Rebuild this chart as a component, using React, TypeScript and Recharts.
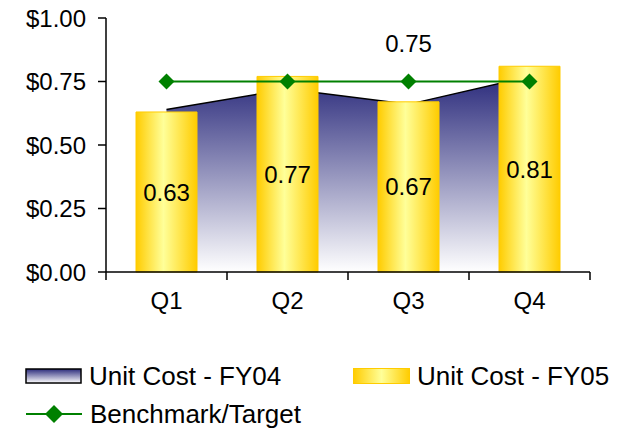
import React from "react";
import {
  Area,
  Bar,
  ComposedChart,
  LabelList,
  Legend,
  Line,
  XAxis,
  YAxis
} from "recharts";

const quarters = ["Q1", "Q2", "Q3", "Q4"];
const unitCostFY04 = [0.64, 0.72, 0.66, 0.77];
const unitCostFY05 = [0.63, 0.77, 0.67, 0.81];
const benchmarkTarget = [0.75, 0.75, 0.75, 0.75];
const yTicks = [0, 0.25, 0.5, 0.75, 1];

const data = quarters.map((q, i) => ({
  quarter: q,
  fy04: unitCostFY04[i],
  fy05: unitCostFY05[i],
  target: benchmarkTarget[i]
}));

const WIDTH = 627;
const HEIGHT = 430;
const MARGIN = { top: 18, right: 37, left: 0, bottom: 0 };
const Y_AXIS_WIDTH = 106;
const X_AXIS_HEIGHT = 30;
const BAND = (WIDTH - MARGIN.right - Y_AXIS_WIDTH) / quarters.length;
const FONT = "'Liberation Sans', Arial, sans-serif";
const LABEL_SIZE = 24;

// category label at the centre, tick marks on the band edges
function QuarterTick(props: any) {
  const { x, y, payload, index } = props;
  const top = y - 8;
  return (
    <g>
      <line x1={x - BAND / 2} x2={x - BAND / 2} y1={top} y2={top + 8} stroke="#000" strokeWidth={1.5} />
      {index === quarters.length - 1 && (
        <line x1={x + BAND / 2} x2={x + BAND / 2} y1={top} y2={top + 8} stroke="#000" strokeWidth={1.5} />
      )}
      <text x={x} y={y + 29} textAnchor="middle" fill="#000" fontSize={LABEL_SIZE} fontFamily={FONT}>
        {payload.value}
      </text>
    </g>
  );
}

function Diamond(props: any) {
  const { cx, cy } = props;
  if (cx == null || cy == null) return null;
  const r = 8;
  return (
    <polygon
      points={`${cx},${cy - r} ${cx + r},${cy} ${cx},${cy + r} ${cx - r},${cy}`}
      fill="#008000"
    />
  );
}

// only the Q3 point carries its value, raised above the line
function TargetLabel(props: any) {
  const { x, y, value, index } = props;
  if (index !== 2) return null;
  return (
    <text x={x} y={y - 38} textAnchor="middle" dominantBaseline="central" fill="#000" fontSize={LABEL_SIZE} fontFamily={FONT}>
      {value}
    </text>
  );
}

function ChartLegend() {
  const text: React.CSSProperties = {
    position: "absolute",
    fontSize: 26,
    fontFamily: FONT,
    color: "#000",
    lineHeight: "30px",
    whiteSpace: "nowrap"
  };
  return (
    <div style={{ position: "relative", width: WIDTH, height: HEIGHT - 272 - X_AXIS_HEIGHT }}>
      <svg style={{ position: "absolute", left: 25, top: 66 }} width={58} height={17}>
        <rect x={1} y={1} width={55} height={14} fill="url(#legendNavy)" stroke="#000" strokeWidth={1.5} />
      </svg>
      <div style={{ ...text, left: 89, top: 59 }}>Unit Cost - FY04</div>
      <svg style={{ position: "absolute", left: 353, top: 66 }} width={58} height={17}>
        <rect x={0.5} y={0.5} width={56} height={15} fill="url(#legendGold)" stroke="#FFCC00" strokeWidth={1} />
      </svg>
      <div style={{ ...text, left: 417, top: 59 }}>Unit Cost - FY05</div>
      <svg style={{ position: "absolute", left: 24, top: 102 }} width={60} height={20}>
        <line x1={2} x2={58} y1={10} y2={10} stroke="#008000" strokeWidth={2} />
        <polygon points="30,1 39,10 30,19 21,10" fill="#008000" />
      </svg>
      <div style={{ ...text, left: 90, top: 97 }}>Benchmark/Target</div>
    </div>
  );
}

export default function App() {
  return (
    <div style={{ position: "absolute", left: 0, top: 0, background: "#fff" }}>
      <ComposedChart width={WIDTH} height={HEIGHT} data={data} margin={MARGIN}>
        <defs>
          <linearGradient id="navyFade" x1="0" y1="0" x2="0" y2="1">
            <stop offset="0%" stopColor="#2B2B7C" />
            <stop offset="100%" stopColor="#FFFFFF" />
          </linearGradient>
          <linearGradient id="goldBar" x1="0" y1="0" x2="1" y2="0">
            <stop offset="0%" stopColor="#FFCC00" />
            <stop offset="45%" stopColor="#FFFF99" />
            <stop offset="100%" stopColor="#FFCC00" />
          </linearGradient>
          <linearGradient id="legendNavy" x1="0" y1="0" x2="0" y2="1">
            <stop offset="0%" stopColor="#2B2B7C" />
            <stop offset="100%" stopColor="#FFFFFF" />
          </linearGradient>
          <linearGradient id="legendGold" x1="0" y1="0" x2="1" y2="0">
            <stop offset="0%" stopColor="#FFCC00" />
            <stop offset="50%" stopColor="#FFFF99" />
            <stop offset="100%" stopColor="#FFCC00" />
          </linearGradient>
        </defs>
        <XAxis
          dataKey="quarter"
          height={X_AXIS_HEIGHT}
          tickLine={false}
          tickSize={8}
          tickMargin={0}
          axisLine={{ stroke: "#000", strokeWidth: 1.5 }}
          tick={<QuarterTick />}
          interval={0}
        />
        <YAxis
          width={Y_AXIS_WIDTH}
          domain={[0, 1]}
          ticks={yTicks}
          tickFormatter={(v: number) => `$${v.toFixed(2)}`}
          tickSize={8}
          tickMargin={12}
          tickLine={{ stroke: "#000", strokeWidth: 1.5 }}
          axisLine={{ stroke: "#000", strokeWidth: 1.5 }}
          tick={{ fill: "#000", fontSize: LABEL_SIZE, fontFamily: FONT }}
        />
        <Legend verticalAlign="bottom" wrapperStyle={{ left: 0, width: WIDTH }} content={<ChartLegend />} />
        <Area
          type="linear"
          dataKey="fy04"
          name="Unit Cost - FY04"
          stroke="#000"
          strokeWidth={1.5}
          fill="url(#navyFade)"
          fillOpacity={1}
          dot={false}
          activeDot={false}
          isAnimationActive={false}
        />
        <Bar
          dataKey="fy05"
          name="Unit Cost - FY05"
          barSize={61}
          fill="url(#goldBar)"
          stroke="#FFCC00"
          strokeWidth={1}
          isAnimationActive={false}
        >
          <LabelList dataKey="fy05" position="center" fill="#000" fontSize={LABEL_SIZE} fontFamily={FONT} />
        </Bar>
        <Line
          type="linear"
          dataKey="target"
          name="Benchmark/Target"
          stroke="#008000"
          strokeWidth={2}
          dot={<Diamond />}
          activeDot={false}
          label={<TargetLabel />}
          isAnimationActive={false}
        />
      </ComposedChart>
    </div>
  );
}
